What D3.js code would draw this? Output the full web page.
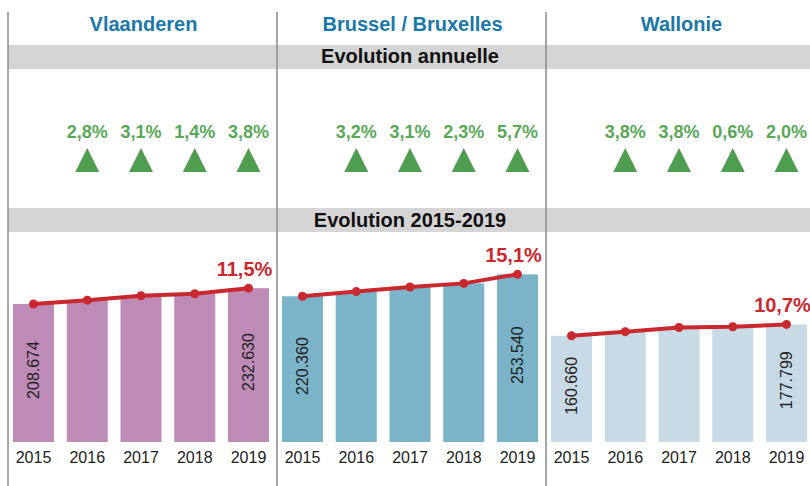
<!DOCTYPE html>
<head>
  <meta charset="utf-8">
  <title>Evolution 2015-2019</title>
  <style>
    body { margin: 0; background: #fff; }
    svg { display: block; font-family: "Liberation Sans", Arial, sans-serif; }
  </style>
</head>
<body>
  <script src="https://cdn.jsdelivr.net/npm/d3@7"></script>
  <script>
    // data
    var regions = ["Vlaanderen", "Brussel / Bruxelles", "Wallonie"];
    var years = ["2015", "2016", "2017", "2018", "2019"];
    var vlaanderen = [208674, 214500, 221150, 224150, 232630];
    var brussel = [220360, 227400, 234450, 239850, 253540];
    var wallonie = [160660, 166800, 173150, 174250, 177799];
    var annualVl = [2.8, 3.1, 1.4, 3.8];
    var annualBr = [3.2, 3.1, 2.3, 5.7];
    var annualWa = [3.8, 3.8, 0.6, 2.0];
    var totalGrowth = [11.5, 15.1, 10.7];
    var barColors = ["#bd8bb6", "#7bb3c9", "#c8dae6"];

    var series = [vlaanderen, brussel, wallonie];
    var annual = [annualVl, annualBr, annualWa];

    var w = 810, h = 486;
    var panelW = 269, panelX0 = 8;
    var red = "#c9292e", green = "#58a957", triGreen = "#4f9e4f";

    var loc = d3.formatLocale({decimal: ",", thousands: ".", grouping: [3], currency: ["", ""]});
    var fmtInt = loc.format(",d");
    var fmtPct = loc.format(".1f");

    var svg = d3.select("body").append("svg")
      .attr("width", w)
      .attr("height", h);

    // shared value scale
    var y = d3.scaleLinear().domain([0, 300000]).range([442, 243.6]);

    // grey bands
    var bands = [{t: "Evolution annuelle", y0: 45, base: 63}, {t: "Evolution 2015-2019", y0: 208, base: 227}];
    bands.forEach(function(b) {
      svg.append("rect")
        .attr("x", panelX0).attr("y", b.y0)
        .attr("width", w - panelX0).attr("height", 24)
        .attr("fill", "#d5d5d5");
      svg.append("text")
        .attr("x", 410).attr("y", b.base)
        .attr("text-anchor", "middle")
        .style("font-size", "20px").style("font-weight", "bold")
        .attr("fill", "#111")
        .text(b.t);
    });

    // vertical dividers
    [0, 1, 2].forEach(function(i) {
      svg.append("line")
        .attr("x1", panelX0 + i * panelW).attr("x2", panelX0 + i * panelW)
        .attr("y1", 12).attr("y2", h)
        .attr("stroke", "#8a8a8a").attr("stroke-width", 1.5);
    });

    regions.forEach(function(name, i) {
      var x0 = panelX0 + i * panelW;
      var vals = series[i];
      var data = years.map(function(yr, j) { return {year: yr, value: vals[j]}; });

      var x = d3.scaleBand().domain(years).range([x0 + 5, x0 + 261])
        .paddingInner(0.237).paddingOuter(0);
      var cx = function(d) { return x(d) + x.bandwidth() / 2; };

      var g = svg.append("g");

      // region title
      g.append("text")
        .attr("x", x0 + panelW / 2 + 1).attr("y", 31)
        .attr("text-anchor", "middle")
        .style("font-size", "20px").style("font-weight", "bold")
        .attr("fill", "#1a78a8")
        .text(name);

      // annual growth labels + triangles (2016..2019)
      var ann = annual[i].map(function(v, j) { return {year: years[j + 1], v: v}; });
      g.selectAll(".ann").data(ann).enter().append("text")
        .attr("x", function(d) { return cx(d.year); })
        .attr("y", 138)
        .attr("text-anchor", "middle")
        .style("font-size", "18px").style("font-weight", "bold")
        .attr("fill", green)
        .text(function(d) { return fmtPct(d.v) + "%"; });
      g.selectAll(".tri").data(ann).enter().append("path")
        .attr("transform", function(d) { return "translate(" + cx(d.year) + ",160)"; })
        .attr("d", "M-12,12L0,-12L12,12Z")
        .attr("fill", triGreen);

      // bars
      g.selectAll("rect.bar").data(data).enter().append("rect")
        .attr("class", "bar")
        .attr("x", function(d) { return x(d.year); })
        .attr("y", function(d) { return y(d.value); })
        .attr("width", x.bandwidth())
        .attr("height", function(d) { return y(0) - y(d.value); })
        .attr("fill", barColors[i]);

      // values in first and last bars
      g.selectAll(".val").data([data[0], data[4]]).enter().append("text")
        .attr("transform", function(d) {
          return "translate(" + cx(d.year) + "," + ((y(d.value) + y(0)) / 2 - 3) + ") rotate(-90)";
        })
        .attr("text-anchor", "middle")
        .attr("dy", "0.35em")
        .style("font-size", "16px")
        .attr("fill", "#222")
        .text(function(d) { return fmtInt(d.value); });

      // year labels
      g.selectAll(".yr").data(years).enter().append("text")
        .attr("x", function(d) { return cx(d); })
        .attr("y", 463)
        .attr("text-anchor", "middle")
        .style("font-size", "16px")
        .attr("fill", "#222")
        .text(function(d) { return d; });

      // trend line
      var line = d3.line().x(function(d) { return cx(d.year); }).y(function(d) { return y(d.value); });
      g.append("path").datum(data)
        .attr("d", line)
        .attr("fill", "none")
        .attr("stroke", red).attr("stroke-width", 4)
        .attr("stroke-linejoin", "round");
      g.selectAll(".dot").data(data).enter().append("circle")
        .attr("cx", function(d) { return cx(d.year); })
        .attr("cy", function(d) { return y(d.value); })
        .attr("r", 4.5)
        .attr("fill", red);

      // total growth label
      var last = data[4];
      g.append("text")
        .attr("x", cx(last.year) - 4)
        .attr("y", y(last.value) - 12)
        .attr("text-anchor", "middle")
        .style("font-size", "20px").style("font-weight", "bold")
        .attr("fill", red)
        .text(fmtPct(totalGrowth[i]) + "%");
    });
  </script>
</body>
